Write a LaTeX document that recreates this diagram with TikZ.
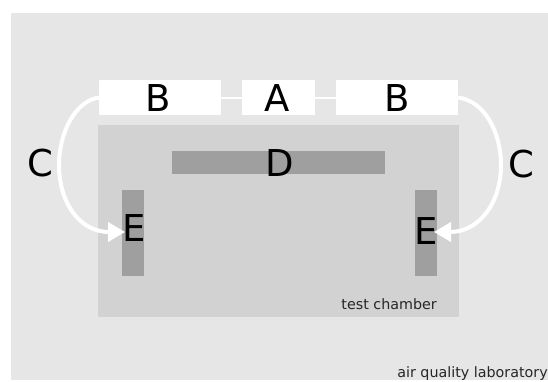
\documentclass[tikz,border=0pt]{standalone}
\usepackage{fontspec}
\setmainfont{DejaVu Sans}
\usetikzlibrary{arrows.meta}
\definecolor{labgray}{HTML}{E6E6E6}
\definecolor{chambergray}{HTML}{D2D2D2}
\definecolor{bargray}{HTML}{9F9F9F}
\tikzset{
  x=1pt,y=-1pt,
  region/.style={anchor=north west,inner sep=0pt,outer sep=0pt,draw=none},
  whitebox/.style={region,fill=white,minimum height=35pt},
  barbox/.style={region,fill=bargray},
  biglabel/.style={anchor=base,inner sep=0pt,font=\fontsize{37}{37}\selectfont,text=black},
  smalllabel/.style={anchor=base east,inner sep=0pt,font=\fontsize{14.3}{14.3}\selectfont,text=black!85},
  link/.style={draw=white,line width=2pt},
  feed/.style={draw=white,line width=4pt,-{Triangle[length=17pt,width=19pt,fill=white]}}
}
\begin{document}
\begin{tikzpicture}
\useasboundingbox (0,0) rectangle (548,381);
\node[region,fill=labgray,minimum width=537pt,minimum height=367pt] (lab) at (11,13) {};
\node[region,fill=chambergray,minimum width=361pt,minimum height=192pt] (chamber) at (98,125) {};
\node[whitebox,minimum width=122pt] (bl) at (99,80) {};
\node[whitebox,minimum width=73pt] (a) at (242,80) {};
\node[whitebox,minimum width=122pt] (br) at (336,80) {};
\node[barbox,minimum width=213pt,minimum height=23pt] (d) at (172,151) {};
\node[barbox,minimum width=22pt,minimum height=86pt] (el) at (122,190) {};
\node[barbox,minimum width=22pt,minimum height=86pt] (er) at (415,190) {};
\draw[link] (bl.east) -- (a.west);
\draw[link] (a.east) -- (br.west);
\coordinate (cl) at (59,165);
\coordinate (cr) at (501,165);
\coordinate (tl) at (125,232);
\coordinate (tr) at (434,232);
\draw[feed] (bl.west) .. controls (75,101) and (59,133) .. (cl) .. controls (59,203) and (80,232) .. (tl);
\draw[feed] (br.east) .. controls (485,101) and (501,133) .. (cr) .. controls (501,203) and (479,232) .. (tr);
\node[biglabel] (lb1) at (158,111) {B};
\node[biglabel] (la) at (277,111) {A};
\node[biglabel] (lb2) at (397,111) {B};
\node[biglabel] (lc1) at (40.5,176.5) {C};
\node[biglabel] (lc2) at (521,177) {C};
\node[biglabel] (ld) at (279.5,176) {D};
\node[biglabel] (le1) at (134,241) {E};
\node[biglabel] (le2) at (426.5,244) {E};
\node[smalllabel] (tc) at (437,309) {test chamber};
\node[smalllabel] (aq) at (548,377) {air quality laboratory};
\end{tikzpicture}
\end{document}
